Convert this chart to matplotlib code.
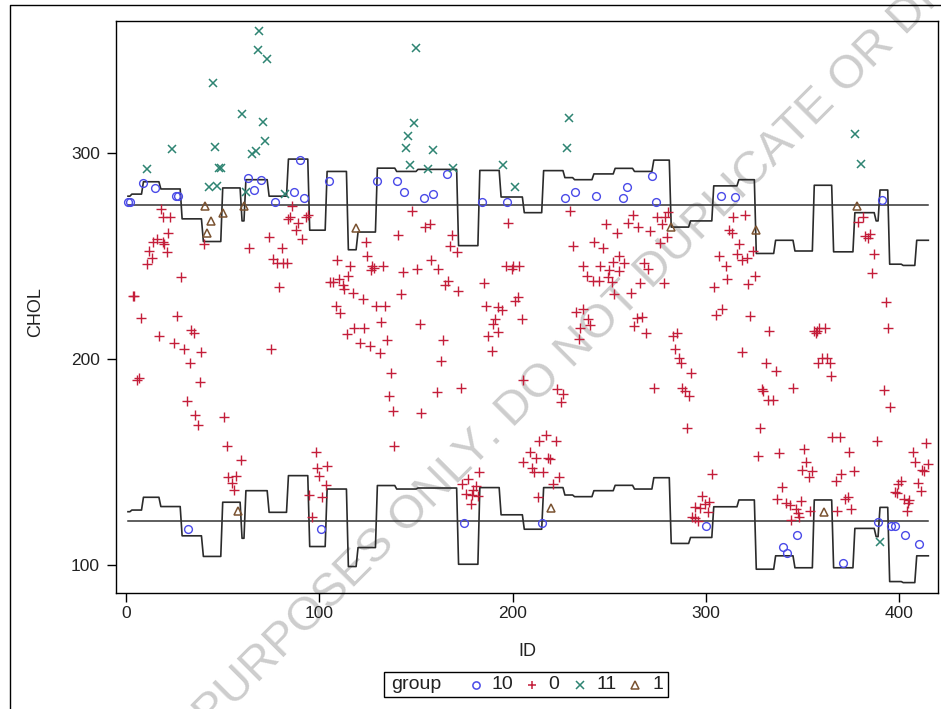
import numpy as np
import matplotlib
matplotlib.use("Agg")
import matplotlib.pyplot as plt
from matplotlib.lines import Line2D
from matplotlib.patches import Rectangle

plt.rcParams["font.family"] = ["Liberation Sans", "DejaVu Sans"]

# group 10 (blue circles)
g10_id = [1, 2, 9, 15, 26, 27, 63, 66, 70, 77, 87, 90, 92, 32, 101, 105, 130, 140,
          144, 154, 159, 166, 184, 197, 175, 227, 232, 243, 257, 259, 272, 274, 308,
          215, 300, 315, 391, 347, 340, 342, 371, 389, 395.6, 397.5, 403, 410]
g10_chol = [276, 276, 285.3, 283, 279, 279, 288, 282, 287, 276, 281, 296.5, 278, 117.6,
            117.3, 286.4, 286.4, 286.4, 281, 278, 280, 289.6, 276, 276, 120.5, 278, 281,
            279, 278, 283.6, 289, 276, 279, 120.2, 118.9, 278.8, 277.2, 114.6, 108.9,
            106, 100.8, 120.7, 119, 118.9, 114.6, 110]

# group 11 (green x)
g11_id = [11, 24, 45, 46, 48, 49, 43, 47, 60, 65, 67, 62, 71, 72, 69, 68, 73, 82, 150,
          149, 146, 145, 159, 147, 156, 169, 195, 201, 229, 228, 377, 380, 390]
g11_chol = [292, 302, 334, 303, 292.6, 292.6, 283.4, 283.7, 319, 299.4, 301, 281, 315,
            306, 359, 350, 345.5, 280, 351, 314.4, 308.4, 302.3, 301.5, 294, 292.2,
            292.6, 294, 283.3, 317, 302.3, 309, 294.5, 111]

# group 1 (brown triangles)
g1_id = [41, 42, 44, 50, 61, 58, 119, 220, 282, 326, 361, 378]
g1_chol = [274, 261, 267, 271, 274, 126, 263.4, 127.5, 264.2, 262.6, 125.9, 274]

# group 0 (red plus)
g0_id = [18.0, 19.3, 22.8, 21.9, 14.1, 15.9, 19.0, 19.8, 12.0, 21.4, 13.3, 10.7, 28.5,
         3.5, 4.3, 40.2, 63.6, 74.0, 80.9, 75.9, 78.3, 81.0, 83.0, 79.0, 86.0, 84.0,
         84.8, 89.0, 93.0, 94.3, 88.0, 91.0,
         7.6, 26.2, 17.2, 33.6, 35.2, 24.8, 30.0, 38.6, 33.1, 75.0, 5.5, 6.9, 38.3,
         31.4, 35.7, 37.1, 50.9, 52.1, 59.3, 52.9, 56.9, 54.7, 56.0, 98.1, 98.7, 99.8,
         94.8, 96.4,
         147.8, 154.7, 157.3, 140.6, 168.8, 167.5, 171.4, 197.8, 124.2, 124.8, 109.0,
         115.9, 127.1, 128.5, 133.1, 126.6, 143.1, 150.7, 157.8, 161.6, 115.0, 105.5,
         107.2, 110.3, 112.4, 112.8, 117.3, 122.8, 142.1, 166.4, 165.0, 171.9, 185.4,
         200.1, 203.3, 196.6, 199.5, 203.0, 201.2,
         108.5, 110.7, 129.3, 134.0, 131.9, 118.0, 123.1, 114.2, 121.0, 126.2, 131.4,
         135.2, 152.1, 164.1, 163.0, 136.9, 136.2, 138.0, 152.6, 161.0, 173.2, 138.8,
         186.2, 192.3, 194.4, 190.9, 189.7, 192.6, 187.1, 189.2, 204.7, 205.5, 205.5,
         103.8, 103.3, 101.2, 182.8, 177.1, 173.7, 180.9, 179.7, 175.7, 178.8, 182.3,
         178.3,
         229.7, 262.4, 274.5, 278.8, 280.5, 248.3, 259.5, 264.7, 253.9, 271.1, 277.1,
         280.0, 276.3, 231.1, 242.1, 246.9, 255.0, 236.3, 245.2, 252.1, 257.8, 250.0,
         255.2, 238.3, 241.7, 244.7, 249.5, 251.3, 268.0, 269.9, 265.9, 278.3, 252.6,
         261.3, 306.9, 310.4, 310.8, 304.3, 312.1,
         232.8, 236.6, 238.9, 240.0, 234.9, 234.4, 264.2, 266.8, 263.0, 269.0, 283.1,
         285.2, 284.0, 286.1, 287.1, 292.1, 273.1, 287.5, 289.2, 291.3, 290.4, 305.2,
         308.2, 222.8, 225.9, 224.9, 217.3, 213.8, 222.3, 209.0, 212.1, 218.2, 219.3,
         209.9, 211.1, 215.9, 224.1, 220.7, 213.3, 303.0, 297.8, 301.8, 299.5, 294.4,
         297.0, 301.2, 292.6, 294.4, 296.1,
         313.7, 320.2, 313.3, 317.1, 315.9, 318.5, 321.1, 324.2, 325.4, 321.9, 381.4,
         378.8, 382.3, 384.9, 383.7, 387.1, 385.8, 393.0,
         322.8, 332.8, 318.8, 331.1, 336.3, 328.9, 329.7, 332.3, 334.6, 344.9, 355.6,
         357.3, 358.7, 361.6, 356.8, 357.7, 359.9, 362.5, 364.2, 364.7, 394.0, 392.1,
         395.2, 328.0, 327.1, 338.0, 350.8, 351.8, 349.9, 355.0, 353.3, 365.4, 369.4,
         374.2, 369.9, 376.3, 367.3, 388.4, 413.9, 407.0, 408.2, 414.7, 411.6, 413.0,
         400.8, 399.5, 397.8, 399.0, 409.4, 411.3, 402.6, 405.2, 404.4, 404.2, 339.5,
         336.9, 341.4, 343.5, 349.2, 346.5, 347.5, 353.9, 348.3, 343.9, 368.0, 372.0,
         373.2, 374.9]
g0_chol = [273, 269, 269, 261, 257, 258, 257, 256, 252.4, 252, 249, 246, 240, 230.6,
           230.6, 256, 254, 259, 254, 248.4, 246.6, 246.6, 246.6, 235, 274, 268, 269,
           266, 269, 270, 262.6, 258,
           220, 221, 211, 214, 212.5, 208, 205, 203.5, 198, 205, 190, 191, 188.7, 179.8,
           173, 168, 172, 157.8, 151, 142.6, 143.2, 140, 136.4, 155, 147.2, 143, 134,
           123.4,
           272, 264, 265.4, 260, 260, 255, 252, 266, 257, 250, 248, 245, 245.3, 244,
           245.3, 243, 242, 243.7, 248, 243.7, 240.5, 237.5, 237.5, 239, 236, 234, 232,
           229, 231.4, 238, 236, 233, 237, 245.3, 245.3, 245.3, 243.7, 230, 228,
           225.9, 222.2, 225.9, 225.9, 218, 215.2, 215.2, 212, 208, 206.3, 203, 209,
           217, 209, 199, 193, 182, 175, 174, 184, 185.8, 158, 225.9, 225.4, 224,
           219.4, 217, 213, 211, 204, 219.4, 190, 150, 148.2, 139, 133, 145, 142,
           139.3, 138.5, 136.4, 134.3, 134, 133.5, 129.6,
           271.8, 270, 268.8, 268.8, 271.5, 265.4, 266, 264, 261, 262, 265.4, 259.4,
           256.5, 255, 257, 254, 250, 245.3, 245.3, 247, 246.5, 243.2, 242.9, 240.4,
           238, 238, 240, 237.5, 246.5, 243.7, 237, 237, 231.4, 232.2, 250, 245.3, 239,
           234.8, 262.6,
           222.7, 224.3, 219.4, 216.5, 214.9, 209.6, 219.7, 220.5, 216.2, 212.8, 211.2,
           212.5, 204.9, 200.3, 197.9, 193, 185.8, 185.8, 184.6, 182, 166.6, 221.4,
           224.3, 185.3, 182.9, 179.3, 163, 160.2, 160.2, 155, 151.8, 151.8, 151.3,
           147.2, 145, 145, 142.9, 139.3, 133.2, 144.2, 133.5, 130.7, 129.6, 128.3,
           127.5, 125.9, 123.4, 122.7, 121.5,
           269, 270, 261, 256, 250.8, 248, 249, 252.4, 240.3, 236.3, 269, 266.7, 259.9,
           260.5, 258.9, 251, 241.6, 227.5,
           221, 213.7, 203.2, 197.9, 194.2, 185.3, 184.5, 180, 180, 185.8, 213.7, 213.7,
           215, 215.2, 212.5, 197.9, 200.3, 200.3, 197.9, 191.7, 215.2, 185, 176.8,
           166.4, 153, 154.2, 156.3, 149.9, 146, 145.8, 142.9, 162, 162, 154.7, 144.2,
           145.8, 140.9, 160.3, 159, 154.7, 149.9, 149, 146, 145.8, 140.8, 139.2, 135.3,
           134.8, 139.7, 136.1, 132, 131.6, 130, 126.2, 138, 132, 130, 129.1, 131.1,
           127, 125.1, 126.2, 123.1, 121.8, 126.2, 132, 133.2, 127]

# limit lines: segment start IDs and levels
seg_start = [1, 3, 9, 18, 29, 40, 50, 60, 62, 74, 84, 95, 104, 115, 120, 130, 140, 151,
             172, 183, 194, 206, 216, 227, 232, 242, 253, 263, 273, 282, 292, 304, 317,
             326, 336, 346, 356, 366, 377, 388, 390, 395, 402, 409]
seg_end = 415
upper_lvl = [279, 280, 286, 282.5, 268, 257, 283, 267, 287, 279, 297, 262.5, 291, 253,
             261.6, 292.6, 291, 292, 255, 291.5, 278.6, 271, 291.4, 288, 287, 289.8,
             292.5, 291, 296.5, 264, 267, 284, 287, 251.2, 257.6, 252.4, 284.3, 252,
             271, 267, 282, 246, 245.4, 257.6]
lower_lvl = [125.9, 126.7, 132.9, 128.4, 114.2, 104.2, 130.5, 113, 136.1, 125.6, 143.4,
             109, 136.9, 99.3, 108.5, 138.6, 136.9, 137.4, 100.4, 137.6, 124.4, 117.4,
             137.6, 134, 133.2, 136.1, 138.7, 136.9, 142.4, 110.5, 113.4, 128.3, 131.6,
             98, 104.5, 98.7, 131.6, 98.7, 117.8, 113.8, 128, 92, 91.5, 104.5]
upper_ref = 274.8
lower_ref = 121.5

W, H = 941, 709


def fx(px):
    return px / W


def fy(py):
    return 1 - py / H


fig = plt.figure(figsize=(9.41, 7.09), dpi=100)
ax = fig.add_axes([fx(116), fy(592.7), fx(938) - fx(116), fy(21) - fy(592.7)])

lens = np.diff(seg_start + [seg_end + 1])
ids = np.arange(seg_start[0], seg_end + 1)
ax.plot(ids, np.repeat(upper_lvl, lens), color="#2b2b2b", lw=1.2, zorder=2)
ax.plot(ids, np.repeat(lower_lvl, lens), color="#2b2b2b", lw=1.2, zorder=2)
ax.plot([1, seg_end], [upper_ref, upper_ref], color="#333333", lw=1.1, zorder=2)
ax.plot([1, seg_end], [lower_ref, lower_ref], color="#333333", lw=1.1, zorder=2)

c_blue, c_red, c_green, c_brown = "#4a4ae8", "#c41e3a", "#2e8472", "#7a5230"
ax.plot(g10_id, g10_chol, ls="none", marker="o", ms=5.6, mfc="none", mec=c_blue, mew=1.0, zorder=3)
ax.plot(g0_id, g0_chol, ls="none", marker="+", ms=7, mec=c_red, mew=1.0, zorder=3)
ax.plot(g11_id, g11_chol, ls="none", marker="x", ms=6, mec=c_green, mew=1.1, zorder=3)
ax.plot(g1_id, g1_chol, ls="none", marker="^", ms=5.6, mfc="none", mec=c_brown, mew=1.1, zorder=3)

ax.set_xlim(-5.2, 420)
ax.set_ylim(86.6, 364)
ax.set_xticks([0, 100, 200, 300, 400])
ax.set_yticks([100, 200, 300])
ax.tick_params(direction="out", length=6.5, width=1, labelsize=12.5, labelcolor="#222222")
ax.tick_params(axis="y", pad=5)
ax.tick_params(axis="x", pad=3)
for s in ax.spines.values():
    s.set_linewidth(1)

fig.text(fx(36), fy(312), "CHOL", rotation=90, ha="center", va="center", fontsize=13, color="#222222")
fig.text(fx(527), fy(652), "ID", ha="center", va="center", fontsize=13, color="#222222")

# legend
fig.add_artist(Rectangle((fx(384), fy(697.3)), fx(668.3) - fx(384), fy(672.3) - fy(697.3),
                         transform=fig.transFigure, fill=False, ec="black", lw=1))
ly = fy(684.5)
fig.text(fx(391.5), ly, "group", ha="left", va="center", fontsize=14, color="#222222")
items = [(476, 491.5, "o", c_blue, "10"), (531.5, 548, "+", c_red, "0"),
         (579.5, 596, "x", c_green, "11"), (635, 653, "^", c_brown, "1")]
for mx, tx, mk, col, lab in items:
    fig.add_artist(Line2D([fx(mx)], [ly], transform=fig.transFigure, ls="none", marker=mk,
                          ms=6 if mk in "+x" else 5.2, mfc="none", mec=col, mew=1.1))
    fig.text(fx(tx), ly, lab, ha="left", va="center", fontsize=14, color="#222222")

# outer border
fig.add_artist(Line2D([fx(10), fx(10), 1], [0, fy(4.5), fy(4.5)], transform=fig.transFigure,
                      color="black", lw=1))

# watermark
wx, wy = fx(494), fy(447)
ax.text(wx, wy, "FOR REVIEW PURPOSES ONLY", transform=fig.transFigure, rotation=45,
        rotation_mode="anchor", ha="right", va="baseline", fontsize=34, color="#cdcdcd",
        clip_on=False, zorder=1)
ax.text(wx, wy, ". DO NOT DUPLICATE OR DISTRIBUTE", transform=fig.transFigure, rotation=45,
        rotation_mode="anchor", ha="left", va="baseline", fontsize=34, color="#cdcdcd",
        clip_on=False, zorder=1)

fig.savefig("out.png", dpi=100)
